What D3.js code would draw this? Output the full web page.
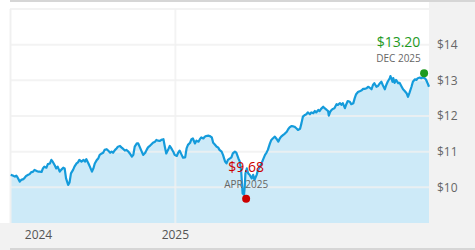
<!DOCTYPE html>
<html>
<head>
<meta charset="utf-8">
<script src="https://cdn.jsdelivr.net/npm/d3@7"></script>
<style>
  body { margin: 0; background: #fff; }
  svg { display: block; font-family: "Open Sans", sans-serif; }
</style>
</head>
<body>
<script>
// price series
const dates = [
  '2024-05-11','2024-05-14','2024-05-17','2024-05-19','2024-05-21','2024-05-24','2024-05-26','2024-05-29','2024-05-31',
  '2024-06-02','2024-06-05','2024-06-07','2024-06-09','2024-06-12','2024-06-14','2024-06-17','2024-06-19','2024-06-21','2024-06-24','2024-06-26','2024-06-28',
  '2024-07-01','2024-07-03','2024-07-06','2024-07-08','2024-07-10','2024-07-13','2024-07-15','2024-07-17','2024-07-20','2024-07-22','2024-07-25','2024-07-27','2024-07-29',
  '2024-08-01','2024-08-03','2024-08-05','2024-08-08','2024-08-10','2024-08-13','2024-08-15','2024-08-17','2024-08-20','2024-08-23','2024-08-25','2024-08-27','2024-08-30',
  '2024-09-01','2024-09-04','2024-09-06','2024-09-08','2024-09-11','2024-09-13','2024-09-15','2024-09-18','2024-09-20','2024-09-22','2024-09-25','2024-09-27','2024-09-30',
  '2024-10-02','2024-10-04','2024-10-07','2024-10-09','2024-10-11','2024-10-14','2024-10-16','2024-10-19','2024-10-21','2024-10-23','2024-10-26','2024-10-28','2024-10-31',
  '2024-11-02','2024-11-04','2024-11-07','2024-11-09','2024-11-11','2024-11-14','2024-11-16','2024-11-19','2024-11-21','2024-11-23','2024-11-26','2024-11-28','2024-11-30',
  '2024-12-03','2024-12-05','2024-12-07','2024-12-10','2024-12-12','2024-12-15','2024-12-17','2024-12-19','2024-12-22','2024-12-24','2024-12-27','2024-12-29','2024-12-31',
  '2025-01-03','2025-01-05','2025-01-07','2025-01-10','2025-01-12','2025-01-15','2025-01-17','2025-01-19','2025-01-22','2025-01-24','2025-01-26','2025-01-29','2025-01-31',
  '2025-02-03','2025-02-05','2025-02-07','2025-02-10','2025-02-12','2025-02-14','2025-02-17','2025-02-19','2025-02-22','2025-02-24','2025-02-26',
  '2025-03-01','2025-03-03','2025-03-05','2025-03-08','2025-03-10','2025-03-13','2025-03-15','2025-03-17','2025-03-20','2025-03-22','2025-03-24','2025-03-27','2025-03-29',
  '2025-04-01','2025-04-03','2025-04-04','2025-04-05','2025-04-07','2025-04-09','2025-04-10','2025-04-11','2025-04-13','2025-04-15','2025-04-17','2025-04-20','2025-04-22','2025-04-24','2025-04-27','2025-04-29',
  '2025-05-02','2025-05-04','2025-05-06','2025-05-09','2025-05-11','2025-05-13','2025-05-16','2025-05-18','2025-05-20','2025-05-23','2025-05-25','2025-05-28','2025-05-30',
  '2025-06-01','2025-06-04','2025-06-06','2025-06-09','2025-06-11','2025-06-13','2025-06-16','2025-06-18','2025-06-20','2025-06-23','2025-06-25','2025-06-28','2025-06-30',
  '2025-07-02','2025-07-05','2025-07-07','2025-07-09','2025-07-12','2025-07-14','2025-07-17','2025-07-19','2025-07-21','2025-07-24','2025-07-26','2025-07-28','2025-07-31',
  '2025-08-02','2025-08-05','2025-08-07','2025-08-08','2025-08-10','2025-08-12','2025-08-14','2025-08-16','2025-08-19','2025-08-21','2025-08-24','2025-08-26','2025-08-28','2025-08-31',
  '2025-09-02','2025-09-04','2025-09-07','2025-09-09','2025-09-12','2025-09-14','2025-09-16','2025-09-19','2025-09-21','2025-09-24','2025-09-26','2025-09-28',
  '2025-10-01','2025-10-03','2025-10-05','2025-10-08','2025-10-10','2025-10-12','2025-10-15','2025-10-17','2025-10-20','2025-10-22','2025-10-24','2025-10-27','2025-10-29','2025-10-31',
  '2025-11-03','2025-11-04','2025-11-07','2025-11-08','2025-11-10','2025-11-12','2025-11-15','2025-11-17','2025-11-20','2025-11-22','2025-11-24','2025-11-27','2025-11-29',
  '2025-12-01','2025-12-04','2025-12-06','2025-12-09','2025-12-11','2025-12-13','2025-12-16','2025-12-18','2025-12-20','2025-12-23','2025-12-25','2025-12-27','2025-12-29'
];
const prices = [
  10.35,10.33,10.30,10.33,10.27,10.16,10.21,10.23,10.27,
  10.32,10.35,10.37,10.42,10.44,10.49,10.46,10.44,10.44,10.43,10.53,10.58,
  10.55,10.65,10.67,10.77,10.72,10.61,10.53,10.58,10.44,10.49,10.55,10.53,10.25,
  10.07,10.14,10.39,10.49,10.58,10.67,10.70,10.77,10.72,10.77,10.72,10.79,10.67,
  10.58,10.44,10.53,10.67,10.77,10.81,10.91,10.95,10.97,11.05,11.07,11.03,10.97,
  11.00,10.97,11.05,11.09,11.14,11.16,11.12,11.07,11.03,11.05,11.00,10.95,10.86,
  10.91,11.14,11.23,11.23,11.14,11.00,10.91,10.97,11.05,11.12,11.17,11.21,11.25,
  11.28,11.33,11.31,11.30,11.33,11.35,11.14,10.95,11.07,11.16,11.07,11.00,10.91,
  10.88,10.97,11.03,10.91,10.83,10.84,11.09,11.19,11.25,11.35,11.37,11.23,11.31,
  11.28,11.35,11.40,11.37,11.42,11.44,11.45,11.44,11.40,11.25,11.21,
  11.14,11.12,11.05,11.00,10.91,10.72,10.67,10.77,10.81,10.84,10.95,11.00,10.97,
  10.81,10.72,10.58,10.44,9.83,9.79,10.02,10.39,10.53,10.39,10.35,10.25,10.35,10.21,10.35,10.49,
  10.60,10.67,10.77,10.91,10.97,11.05,11.23,11.33,11.37,11.42,11.37,11.28,11.37,
  11.42,11.47,11.50,11.56,11.63,11.68,11.72,11.71,11.70,11.65,11.61,11.64,11.80,
  11.98,12.03,12.05,12.10,12.05,12.10,12.08,12.14,12.10,12.17,12.14,12.20,12.26,
  12.22,12.17,12.14,12.01,12.12,12.17,12.20,12.22,12.33,12.31,12.36,12.31,12.36,12.22,
  12.33,12.42,12.40,12.33,12.36,12.50,12.61,12.68,12.69,12.72,12.76,12.76,
  12.78,12.82,12.80,12.75,12.87,12.92,12.82,12.84,12.92,12.96,12.87,12.75,12.87,12.96,
  13.06,13.12,12.96,13.06,12.93,13.01,12.92,12.93,12.82,12.75,12.71,12.64,12.54,
  12.64,12.82,12.96,13.03,13.01,13.06,13.08,13.06,13.08,13.06,13.01,12.92,12.82
];

const xDomain = ['2024-05-10', '2025-12-29'];
const yDomain = [9, 15];
const yGrid = [10, 11, 12, 13, 14, 15];
const yTicks = [10, 11, 12, 13, 14];
const xTickDates = ['2024-01-01', '2025-01-01'];
const xTickLabels = ['2024', '2025'];

// high / low callouts
const marks = [
  { date: '2025-12-22', value: 13.20, label: '$13.20', period: 'DEC 2025', color: '#1f9a1f' },
  { date: '2025-04-12', value: 9.68, label: '$9.68', period: 'APR 2025', color: '#cc0000' }
];

const parse = d3.timeParse('%Y-%m-%d');
const series = dates.map((d, i) => ({ date: parse(d), value: prices[i] }));

const W = 475, H = 250;
const margin = { top: 9, right: 46, bottom: 27, left: 10 };
const width = W - margin.left - margin.right;
const height = H - margin.top - margin.bottom;

const svg = d3.select('body').append('svg')
  .attr('width', W)
  .attr('height', H);

// frame bands
svg.append('rect').attr('x', 0).attr('y', margin.top + height).attr('width', W).attr('height', H - margin.top - height).attr('fill', '#f2f2f2');
svg.append('rect').attr('x', margin.left + width).attr('y', 0).attr('width', margin.right).attr('height', H).attr('fill', '#f2f2f2');
svg.append('rect').attr('x', margin.left).attr('y', 0).attr('width', W - margin.left).attr('height', 2).attr('fill', '#d6d6d6');
svg.append('rect').attr('x', margin.left).attr('y', H - 2).attr('width', W - margin.left).attr('height', 2).attr('fill', '#d6d6d6');

const g = svg.append('g')
  .attr('transform', `translate(${margin.left}, ${margin.top})`);

const x = d3.scaleTime()
  .domain(xDomain.map(parse))
  .range([0, width]);

const y = d3.scaleLinear()
  .domain(yDomain)
  .range([height, 0]);

// area + line
g.append('path')
  .datum(series)
  .attr('fill', '#cdeaf8')
  .attr('d', d3.area().x(d => x(d.date)).y0(height).y1(d => y(d.value)));

// grid on top of the fill
g.selectAll('.hgrid')
  .data(yGrid)
  .join('line')
  .attr('x1', 0).attr('x2', width)
  .attr('y1', d => y(d)).attr('y2', d => y(d))
  .attr('stroke', '#f0f0f0')
  .attr('stroke-opacity', 0.8)
  .attr('stroke-width', 2);

g.append('line')
  .attr('x1', 0.5).attr('x2', 0.5)
  .attr('y1', 0).attr('y2', height)
  .attr('stroke', '#f0f0f0')
  .attr('stroke-width', 2);

const xTicks = xTickDates.map(parse);
g.selectAll('.vgrid')
  .data(xTicks.filter(d => x(d) > 0))
  .join('line')
  .attr('x1', d => x(d)).attr('x2', d => x(d))
  .attr('y1', 0).attr('y2', height)
  .attr('stroke', '#f0f0f0')
  .attr('stroke-opacity', 0.8)
  .attr('stroke-width', 2);

g.append('path')
  .datum(series)
  .attr('fill', 'none')
  .attr('stroke', '#149bdb')
  .attr('stroke-width', 2.2)
  .attr('stroke-linejoin', 'round')
  .attr('d', d3.line().x(d => x(d.date)).y(d => y(d.value)));

// right axis labels
g.selectAll('.ylab')
  .data(yTicks)
  .join('text')
  .attr('x', width + 8)
  .attr('y', d => y(d))
  .attr('dy', '0.35em')
  .attr('fill', '#666')
  .style('font-size', '12px')
  .text(d => '$' + d);

// bottom year labels
g.selectAll('.xlab')
  .data(xTicks)
  .join('text')
  .attr('x', d => Math.max(x(d), 28.5))
  .attr('y', height + 15.5)
  .attr('text-anchor', 'middle')
  .attr('fill', '#555')
  .style('font-size', '12px')
  .text((d, i) => xTickLabels[i]);

// callouts
marks.forEach(m => {
  const mx = x(parse(m.date)), my = y(m.value);
  const tx = Math.min(mx, width - 30.5);
  g.append('circle')
    .attr('cx', mx).attr('cy', my).attr('r', 4)
    .attr('fill', m.color);
  g.append('text')
    .attr('x', tx).attr('y', my - 26.5)
    .attr('text-anchor', 'middle')
    .attr('fill', m.color)
    .style('font-size', '14px')
    .text(m.label);
  g.append('text')
    .attr('x', tx).attr('y', my - 11)
    .attr('text-anchor', 'middle')
    .attr('fill', '#666')
    .style('font-size', '10px')
    .text(m.period);
});
</script>
</body>
</html>
